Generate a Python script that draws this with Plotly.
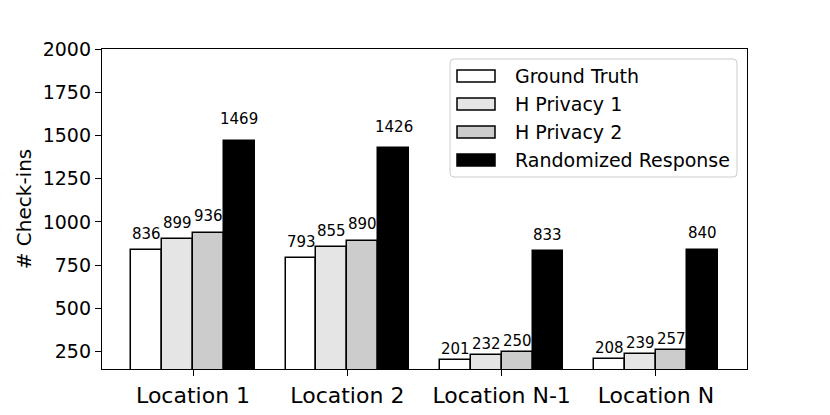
import plotly.graph_objects as go

# data
locations = ['Location 1', 'Location 2', 'Location N-1', 'Location N']
series_names = ['Ground Truth', 'H Privacy 1', 'H Privacy 2', 'Randomized Response']
ground_truth = [836, 793, 201, 208]
h_privacy_1 = [899, 855, 232, 239]
h_privacy_2 = [936, 890, 250, 257]
randomized_response = [1469, 1426, 833, 840]
y_ticks = [250, 500, 750, 1000, 1250, 1500, 1750, 2000]

series = [ground_truth, h_privacy_1, h_privacy_2, randomized_response]
fills = ['#ffffff', '#e5e5e5', '#cccccc', '#000000']
bar_w = 0.2
font = 'DejaVu Sans'

# page body has an 8px margin on every side, so the figure is 16px smaller
L, R, T, B = 94, 75, 41, 38
W, H = 814, 399
pw, ph = W - L - R, H - T - B


# pixel positions measured on the reference (window coords) -> paper coords
def px_x(p):
    return (p - 8 - L) / pw


def px_y(p):
    return (H - B - (p - 8)) / ph


fig = go.Figure()
annotations = []
for k, (name, vals) in enumerate(zip(series_names, series)):
    off = (k - 1.5) * bar_w
    xs = [i + off for i in range(len(locations))]
    fig.add_trace(go.Bar(
        x=xs, y=vals, width=bar_w, name=name,
        marker=dict(color=fills[k], line=dict(color='black', width=1.5)),
        showlegend=False,
    ))
    for x, v in zip(xs, vals):
        annotations.append(dict(
            x=x, y=v * 1.05, xref='x', yref='y', text=str(v),
            showarrow=False, yanchor='bottom', xanchor='center', yshift=-2,
            font=dict(family=font, size=15, color='black'),
        ))

# legend drawn by hand to get matplotlib-like wide patches
# frame with slightly rounded corners
x0, x1, y0, y1 = px_x(450), px_x(737), px_y(177), px_y(59)
rx, ry = 4 / pw, 4 / ph
frame = (f'M{x0 + rx},{y0} L{x1 - rx},{y0} Q{x1},{y0} {x1},{y0 + ry} '
         f'L{x1},{y1 - ry} Q{x1},{y1} {x1 - rx},{y1} '
         f'L{x0 + rx},{y1} Q{x0},{y1} {x0},{y1 - ry} '
         f'L{x0},{y0 + ry} Q{x0},{y0} {x0 + rx},{y0} Z')
shapes = [dict(
    type='path', path=frame, xref='paper', yref='paper',
    line=dict(color='#cccccc', width=1), fillcolor='rgba(255,255,255,0.8)',
)]
for k, name in enumerate(series_names):
    cy = 76 + 28 * k
    shapes.append(dict(
        type='rect', xref='paper', yref='paper',
        x0=px_x(457), x1=px_x(495), y0=px_y(cy + 6), y1=px_y(cy - 6),
        line=dict(color='black', width=1.5), fillcolor=fills[k],
    ))
    annotations.append(dict(
        x=px_x(513), y=px_y(cy), xref='paper', yref='paper', text=name,
        showarrow=False, xanchor='left', yanchor='middle',
        font=dict(family=font, size=19, color='black'),
    ))

fig.update_layout(
    width=W, height=H,
    margin=dict(l=L, r=R, t=T, b=B),
    plot_bgcolor='white', paper_bgcolor='white',
    barmode='overlay', bargap=0,
    font=dict(family=font, color='black'),
    annotations=annotations, shapes=shapes,
)
fig.update_xaxes(
    range=[-0.59, 3.59], tickvals=list(range(len(locations))), ticktext=locations,
    ticks='outside', ticklen=6, tickwidth=1, tickcolor='black',
    showline=True, linecolor='black', linewidth=1.3, mirror=True,
    showgrid=False, zeroline=False, tickfont=dict(size=22, color='black'),
    automargin=False,
)
fig.update_yaxes(
    range=[150, 2000], tickvals=y_ticks,
    ticks='outside', ticklen=6, tickwidth=1, tickcolor='black',
    showline=True, linecolor='black', linewidth=1.3, mirror=True,
    showgrid=False, zeroline=False, tickfont=dict(size=19, color='black'),
    title=dict(text='# Check-ins', font=dict(size=20, color='black'), standoff=5),
    automargin=False,
)

fig.write_html('out.html')
